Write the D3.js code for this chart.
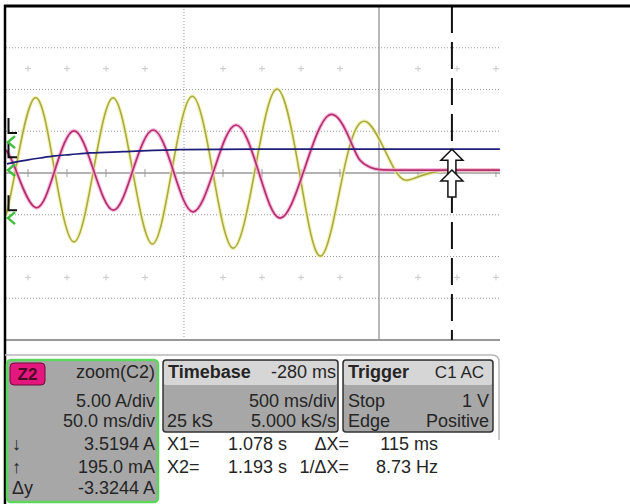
<!DOCTYPE html>
<html><head><meta charset="utf-8">
<script src="https://cdn.jsdelivr.net/npm/d3@7"></script>
<style>
html,body{margin:0;padding:0;background:#fff;}
svg{display:block;font-family:"Liberation Sans",Arial,sans-serif;}
</style></head><body>
<svg id="c" width="630" height="504"></svg>
<script>
// ---- data (time in ms, 10 ms per minor tick; level in vertical divisions) ----
const timeTicks = [-40,-30,-20,-10,10,20,30,40,60,70,80];
const dottedGridTimes = [0];
const solidGridTimes = [50];
const levelGrid = [-3,-2,-1,1,2,3];
const plusLevels = [2.5,-2.5];
const cursorTime = 68.7;

const yellowT = [-45.6,-43.2,-38.2,-33.2,-28.2,-23.2,-18.2,-13.2,-8.1,-3.1,2.1,7.3,12.6,18.2,23.8,29.5,35.1,41.0,46.9,54.1,59.2,65.6,72,81];
const yellowV = [-1.01,0.07,1.80,0.07,-1.65,0.07,1.80,0.07,-1.70,0.07,1.84,0.07,-1.80,0.07,2.01,0.07,-1.99,0.07,1.22,0.07,-0.12,0.05,0.07,0.07];

const magentaT = [-45.6,-43.1,-38.0,-33.1,-28.2,-23.2,-18.1,-13.1,-7.9,-2.8,2.3,7.7,13.3,19.0,24.6,30.8,37.2,42.6,45.1,47.7,50.3,56,64,72,81];
const magentaV = [0.55,0.07,-0.83,0.07,1.01,0.07,-0.89,0.07,1.03,0.07,-0.93,0.07,1.15,0.07,-1.08,0.07,1.39,0.79,0.31,0.14,0.08,0.07,0.07,0.07,0.07];

const blueT = [-45.4,-43.3,-40.3,-36.9,-33.1,-29.2,-24.1,-15.6,-1.0,19.5,81];
const blueV = [0.22,0.26,0.31,0.36,0.41,0.44,0.48,0.51,0.56,0.57,0.57];

const arrowLevels = [0.57, 0.07];           // cursor arrows point at blue and magenta levels
const bracketLevels = [0.96, 0.38, -0.89];  // black channel markers
const chevronLevels = [0.74, 0.07, -1.08];  // green markers

// readout panel text
const zoomLabels = ["zoom(C2)","5.00 A/div","50.0 ms/div","3.5194 A","195.0 mA","-3.3244 A"];
const zoomSymbols = ["↓","↑","Δy"];
const timebase = {title:"Timebase", offset:"-280 ms", scale:"500 ms/div", samples:"25 kS", rate:"5.000 kS/s"};
const trigger = {title:"Trigger", source:"C1 AC", mode:"Stop", level:"1 V", type:"Edge", slope:"Positive"};
const cursorNames = ["X1=","X2="];
const cursorValues = ["1.078 s","1.193 s"];
const deltaNames = ["ΔX=","1/ΔX="];
const deltaValues = ["115 ms","8.73 Hz"];

// ---- drawing ----
const svg = d3.select("#c");
const x = d3.scaleLinear().domain([-45.64, 81.03]).range([6, 500]);
const y = d3.scaleLinear().domain([-4, 4]).range([340, 6]);
const X0 = x.range()[0], X1 = x.range()[1];

const g = svg.append("g");
// horizontal dotted grid
g.selectAll(".hg").data(levelGrid).join("line")
  .attr("x1",X0).attr("x2",X1).attr("y1",d=>y(d)).attr("y2",d=>y(d))
  .attr("stroke","#9a9a9a").attr("stroke-width",1).attr("stroke-dasharray","1,2");
// vertical dotted grid
g.selectAll(".vg").data(dottedGridTimes).join("line")
  .attr("x1",d=>x(d)).attr("x2",d=>x(d)).attr("y1",y(4)).attr("y2",y(-4))
  .attr("stroke","#9a9a9a").attr("stroke-width",1).attr("stroke-dasharray","1,2");
// plus marks
plusLevels.forEach(lv=>{
  timeTicks.forEach(t=>{
    g.append("line").attr("x1",x(t)-3).attr("x2",x(t)+3).attr("y1",y(lv)).attr("y2",y(lv)).attr("stroke","#c8c8c8");
    g.append("line").attr("x1",x(t)).attr("x2",x(t)).attr("y1",y(lv)-3).attr("y2",y(lv)+3).attr("stroke","#c8c8c8");
  });
});
// center line with ticks
g.append("line").attr("x1",X0).attr("x2",X1).attr("y1",y(0)).attr("y2",y(0)).attr("stroke","#9a9a9a").attr("stroke-width",1.3);
g.selectAll(".ct").data(timeTicks).join("line")
  .attr("x1",d=>x(d)).attr("x2",d=>x(d)).attr("y1",y(0)-4).attr("y2",y(0)+4)
  .attr("stroke","#9a9a9a").attr("stroke-width",1);
// solid vertical
g.selectAll(".sv").data(solidGridTimes).join("line")
  .attr("x1",d=>x(d)).attr("x2",d=>x(d)).attr("y1",y(4)).attr("y2",y(-4))
  .attr("stroke","#8a8a8a").attr("stroke-width",1.2);
// bottom border
g.append("line").attr("x1",X0).attr("x2",X1).attr("y1",y(-4)).attr("y2",y(-4)).attr("stroke","#999").attr("stroke-width",1.8);

// traces
function trace(T,V,curve,halo,core,hw,cw){
  const line = d3.line().x((d,i)=>x(T[i])).y((d,i)=>y(V[i])).curve(curve);
  if(halo) g.append("path").attr("d",line(T)).attr("fill","none").attr("stroke",halo).attr("stroke-width",hw).attr("stroke-linejoin","round").attr("opacity",0.75);
  g.append("path").attr("d",line(T)).attr("fill","none").attr("stroke",core).attr("stroke-width",cw).attr("stroke-linejoin","round");
}
trace(yellowT,yellowV,d3.curveNatural,"#f2f2a0","#a9a948",4,1.6);
trace(magentaT,magentaV,d3.curveNatural,"#f7a8d2","#b3306f",4,1.7);
trace(blueT,blueV,d3.curveMonotoneX,null,"#1e1e7a",0,1.7);

// left markers
bracketLevels.forEach(lv=>{
  const yy=y(lv);
  g.append("path").attr("d",`M${X0+2.5},${yy-15} V${yy} H${X0+11}`).attr("fill","none").attr("stroke","#111").attr("stroke-width",2);
});
chevronLevels.forEach(lv=>{
  const yy=y(lv);
  g.append("path").attr("d",`M${X0+9},${yy-6} L${X0+2},${yy} L${X0+9},${yy+6}`).attr("fill","none").attr("stroke","#3fbf3f").attr("stroke-width",2.5);
});

// cursor dashed line
g.append("line").attr("x1",x(cursorTime)).attr("x2",x(cursorTime)).attr("y1",y(4)).attr("y2",y(-4))
  .attr("stroke","#111").attr("stroke-width",2).attr("stroke-dasharray","27,9");
// arrows
arrowLevels.forEach(lv=>{
  const cx=x(cursorTime), ty=y(lv);
  g.append("path").attr("d",`M${cx},${ty} L${cx+11},${ty+11} L${cx+4},${ty+11} L${cx+4},${ty+27} L${cx-4},${ty+27} L${cx-4},${ty+11} L${cx-11},${ty+11} Z`)
    .attr("fill","#fff").attr("stroke","#111").attr("stroke-width",1.5);
});

// borders
svg.append("line").attr("x1",4).attr("x2",630).attr("y1",6).attr("y2",6).attr("stroke","#000").attr("stroke-width",3);
svg.append("line").attr("x1",5).attr("x2",5).attr("y1",5).attr("y2",504).attr("stroke","#000").attr("stroke-width",2.5);

// lower panel outline
svg.append("path").attr("d","M5,355 H492 Q499,355 499,362 V440").attr("fill","none").attr("stroke","#b8b8b8").attr("stroke-width",1.5);

const FS = 18, TC = "#252525";
function txt(s,xx,yy,anchor,opts={}){
  return svg.append("text").text(s).attr("x",xx).attr("y",yy).attr("text-anchor",anchor||"start")
    .attr("font-size",opts.size||FS).attr("font-weight",opts.bold?"bold":"normal").attr("fill",opts.fill||TC);
}
const rows = [378,407,427,450,473,494];

// Z2 box
svg.append("rect").attr("x",7).attr("y",360).attr("width",151).attr("height",142).attr("rx",4)
  .attr("fill","#a7a7a7").attr("stroke","#5cd65c").attr("stroke-width",2.5);
svg.append("rect").attr("x",10).attr("y",363).attr("width",35).attr("height",22).attr("rx",4)
  .attr("fill","#e4177f").attr("stroke","#6a0f38").attr("stroke-width",1);
txt("Z2",27.5,380,"middle",{bold:true,size:17,fill:"#4a0a25"});
zoomLabels.forEach((s,i)=>txt(s,155,rows[i],"end"));
zoomSymbols.forEach((s,i)=>txt(s,12,rows[i+3],"start"));

// Timebase / Trigger boxes
function box(x0,w){
  svg.append("rect").attr("x",x0).attr("y",360).attr("width",w).attr("height",72).attr("rx",3).attr("fill","#a7a7a7");
  svg.append("rect").attr("x",x0+1).attr("y",361).attr("width",w-2).attr("height",24).attr("rx",2).attr("fill","#d6d6d6");
  svg.append("rect").attr("x",x0).attr("y",360).attr("width",w).attr("height",72).attr("rx",3).attr("fill","none").attr("stroke","#333").attr("stroke-width",1.5);
}
box(163,175);
txt(timebase.title,168,rows[0],"start",{bold:true});
txt(timebase.offset,336,rows[0],"end");
txt(timebase.scale,336,rows[1],"end");
txt(timebase.samples,167,rows[2],"start");
txt(timebase.rate,336,rows[2],"end");

box(343,150);
txt(trigger.title,348,rows[0],"start",{bold:true});
txt(trigger.source,484,rows[0],"end",{size:17});
txt(trigger.mode,348,rows[1],"start");
txt(trigger.level,489,rows[1],"end");
txt(trigger.type,348,rows[2],"start");
txt(trigger.slope,489,rows[2],"end");

cursorNames.forEach((s,i)=>txt(s,167,rows[3+i],"start"));
cursorValues.forEach((s,i)=>txt(s,287,rows[3+i],"end"));
deltaNames.forEach((s,i)=>txt(s,349,rows[3+i],"end"));
deltaValues.forEach((s,i)=>txt(s,438,rows[3+i],"end"));
</script>
</body></html>
